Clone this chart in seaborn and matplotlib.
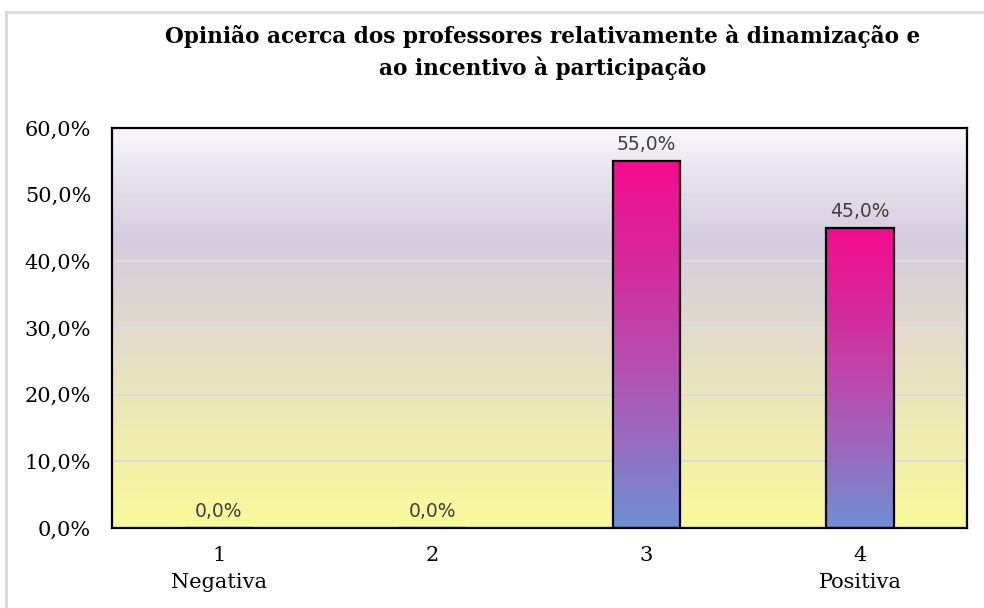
import numpy as np
import pandas as pd
import matplotlib
matplotlib.use('Agg')
import matplotlib.pyplot as plt
import seaborn as sns
from matplotlib.colors import LinearSegmentedColormap
from matplotlib.patches import Rectangle
from matplotlib.ticker import FuncFormatter

# --- Data ---
categories = ['1', '2', '3', '4']
tick_labels = ['1\nNegativa', '2', '3', '4\nPositiva']
percentages = [0.0, 0.0, 55.0, 45.0]
title = 'Opinião acerca dos professores relativamente à dinamização e\nao incentivo à participação'

df = pd.DataFrame({'Opiniao': categories, 'Percentagem': percentages})

sns.set_style('white')
plt.rcParams['font.family'] = ['DejaVu Serif']
plt.rcParams['text.color'] = 'black'

fig = plt.figure(figsize=(9.84, 6.08), dpi=100)
ax = fig.add_axes([112 / 984, 1 - 528 / 608, (967 - 112) / 984, 400 / 608])

# --- Bars (outline only, gradient fill added afterwards) ---
sns.barplot(data=df, x='Opiniao', y='Percentagem', order=categories, ax=ax,
            width=0.315, facecolor='none', edgecolor='black', linewidth=1.6, zorder=3)

ax.set_ylim(0, 60)
ax.set_xlim(-0.5, 3.5)

# background gradient (bottom -> top)
bg_cmap = LinearSegmentedColormap.from_list('bg', [
    (0.0, '#fbfa98'), (0.25, '#efebb3'), (0.5, '#e1dacc'),
    (0.72, '#d6cce0'), (0.88, '#e7e2ee'), (1.0, '#f9f8fc')])
grad = np.linspace(0, 1, 256).reshape(-1, 1)
ax.imshow(grad, cmap=bg_cmap, origin='lower', aspect='auto',
          extent=[-0.5, 3.5, 0, 60], zorder=0)

# bar gradient
bar_cmap = LinearSegmentedColormap.from_list('bar', [
    (0.0, '#6e90d4'), (0.25, '#9a6ac0'), (0.5, '#bc48ac'),
    (0.75, '#d8269a'), (1.0, '#f50c8e')])
for p in list(ax.patches):
    h = p.get_height()
    if h <= 0:
        continue
    x0 = p.get_x()
    im = ax.imshow(grad, cmap=bar_cmap, origin='lower', aspect='auto',
                   extent=[x0, x0 + p.get_width(), 0, h], zorder=2)
    im.set_clip_path(p)

# grid
ax.set_yticks(np.arange(0, 61, 10))
ax.yaxis.grid(True, color='#dcdcdc', linewidth=1.5, zorder=1)
ax.set_axisbelow(True)

# data labels
fmt = lambda v: f'{v:.1f}%'.replace('.', ',')
ax.bar_label(ax.containers[0], labels=[fmt(v) for v in percentages], padding=5,
             fontsize=13.5, color='#404040', family='DejaVu Sans', zorder=4)

# axes styling
ax.yaxis.set_major_formatter(FuncFormatter(lambda v, _: fmt(v)))
ax.tick_params(axis='y', length=0, pad=15, labelsize=15, labelcolor='black')
ax.set_xticks(range(len(categories)))
ax.set_xticklabels(tick_labels, linespacing=1.55)
ax.tick_params(axis='x', which='major', length=0, pad=13, labelsize=15, labelcolor='black')
ax.set_xticks(np.arange(-0.5, 4, 1), minor=True)
ax.tick_params(axis='x', which='minor', length=8, width=1.6, color='black', direction='out')
ax.set_xlabel('')
ax.set_ylabel('')
for s in ax.spines.values():
    s.set_visible(True)
    s.set_color('black')
    s.set_linewidth(1.6)

fig.text(543 / 984, 1 - 52 / 608, title, ha='center', va='center', fontsize=15.6,
         fontweight='bold', linespacing=1.45, color='black')

# outer chart frame
fig.add_artist(Rectangle((6 / 984, -0.1), 1.1, 1.1 - 12.5 / 608,
                         transform=fig.transFigure, fill=False,
                         edgecolor='#d9d9d9', linewidth=2, clip_on=False))

fig.savefig('out.png', dpi=100)
